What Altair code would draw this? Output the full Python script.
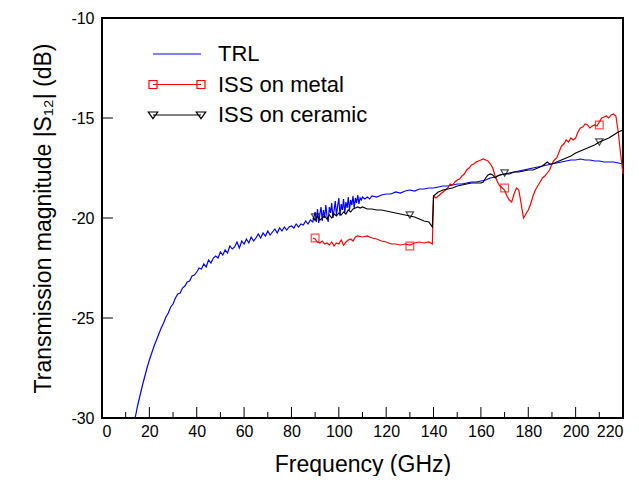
import altair as alt
import pandas as pd

FONT = "Liberation Sans"

# ---------------- data ----------------
trl_f = [14, 15, 16, 17, 18, 19, 20, 21, 22, 23, 24, 25, 26, 27, 28, 29, 30, 31, 32, 33,
         34, 35, 36, 37, 38, 39, 40, 41, 42, 43, 44, 45, 46, 47, 48, 49, 50, 51, 52, 53,
         54, 55, 56, 57, 58, 59, 60, 61, 62, 63, 64, 65, 66, 67, 68, 69, 70, 71, 72, 73,
         74, 75, 76, 77, 78, 79, 80, 81, 82, 83, 84, 85, 86, 87, 88, 89,
         90, 90.5, 91, 91.5, 92, 92.5, 93, 93.5, 94, 94.5, 95, 95.5, 96, 96.5, 97, 97.5,
         98, 98.5, 99, 99.5, 100, 100.5, 101, 101.5, 102, 102.5, 103, 103.5, 104, 104.5,
         105, 105.5, 106, 106.5, 107, 107.5, 108, 108.5, 109, 109.5, 110, 111, 112, 113,
         114, 116, 118, 120, 122, 124, 126, 128, 130, 132, 134, 136, 138, 140, 142, 144,
         146, 148, 150, 152, 154, 156, 158, 160, 162, 164, 166, 168, 170, 172, 174, 176,
         178, 180, 182, 184, 186, 188, 190, 192, 194, 196, 198, 200, 202, 204, 206, 208,
         210, 212, 214, 216, 218, 220]
trl_s = [-30.0, -29.4, -28.9, -28.4, -27.95, -27.5, -27.1, -26.75, -26.4, -26.1, -25.8, -25.5,
         -25.25, -24.95, -24.75, -24.45, -24.3, -24.0, -23.8, -23.75, -23.5, -23.4, -23.2,
         -23.15, -22.9, -22.85,
         -22.7, -22.5, -22.55, -22.3, -22.45, -22.1, -22.25, -22.0, -21.9, -22.0,
         -21.7, -21.85, -21.6, -21.75, -21.4, -21.55, -21.45, -21.2, -21.5, -21.15,
         -21.3, -21.05, -21.25, -20.95, -21.15, -21.0, -20.8, -21.0, -20.75, -20.9,
         -20.65, -20.85, -20.7, -20.55, -20.75, -20.5, -20.65, -20.45, -20.6, -20.45,
         -20.4, -20.5, -20.3, -20.45, -20.3, -20.35, -20.15, -20.3, -20.1, -20.2,
         -19.7, -20.2, -19.55, -20.25, -19.8, -19.45, -20.15, -19.6, -20.0, -19.35, -19.9,
         -20.2, -19.45, -19.75, -19.25, -20.0, -19.6, -19.15, -19.85, -19.4, -19.0, -19.9,
         -19.3, -19.6, -19.05, -19.75, -19.2, -19.5, -18.95, -19.6, -19.1, -19.35, -18.9,
         -19.5, -19.0, -19.25, -18.85, -19.3, -19.0, -19.1, -18.95, -19.05, -18.95, -19.05,
         -18.9, -18.95, -18.85, -18.8, -18.8, -18.7, -18.75, -18.65, -18.6, -18.65, -18.55,
         -18.55, -18.5, -18.5, -18.45, -18.4, -18.4, -18.35, -18.3, -18.3, -18.25, -18.2,
         -18.2, -18.15, -18.1, -18.0, -17.95, -17.85, -17.8, -17.8, -17.7, -17.65, -17.6,
         -17.55, -17.5, -17.45, -17.4, -17.35, -17.3, -17.25, -17.2, -17.15, -17.1, -17.1,
         -17.05, -17.1, -17.1, -17.15, -17.15, -17.2, -17.2, -17.2, -17.25, -17.3]

metal_f = [89, 90, 91, 92, 93, 94, 95, 96, 97, 98, 99, 100, 101, 102, 103, 104, 105, 106,
           107, 108, 110, 112, 114, 116, 118, 120, 122, 124, 126, 128, 130, 132, 134, 136,
           138, 139.5, 140, 141, 142, 143, 144, 145, 146, 147, 148, 149, 150, 151, 152, 153,
           154, 155, 156, 157, 158, 159, 160, 161, 162, 163, 164, 165, 166, 167, 168, 169,
           170, 171, 172, 173, 174, 175, 176, 177, 178, 179, 180, 181, 182, 183, 184, 185,
           186, 187, 188, 189, 190, 191, 192, 193, 194, 195, 196, 197, 198, 199, 200, 201,
           202, 203, 204, 205, 206, 207, 208, 209, 210, 211, 212, 213, 214, 215, 216, 217,
           218, 219, 220]
metal_s = [-21.0, -21.05, -21.2, -21.25, -21.15, -21.3, -21.25, -21.35, -21.2, -21.4, -21.25,
           -21.3, -21.1, -21.35, -21.2, -21.1, -21.05, -21.15, -20.95, -20.9, -20.95, -20.9,
           -21.0, -21.05, -21.15, -21.2, -21.3, -21.3, -21.35, -21.3, -21.35, -21.25, -21.2,
           -21.25, -21.2, -21.3, -18.9, -19.0, -18.9, -18.8, -18.7, -18.6, -18.5, -18.3,
           -18.35, -18.2, -18.1, -18.05, -17.9, -17.8, -17.6, -17.5, -17.35, -17.3, -17.2,
           -17.15, -17.1, -17.05, -17.1, -17.15, -17.3, -17.5, -17.9, -18.2, -18.4, -18.5,
           -18.6, -18.9, -19.1, -19.2, -18.8, -18.5, -18.6, -19.3, -20.0, -19.8, -19.6,
           -19.3, -18.9, -18.6, -18.4, -18.2, -18.0, -17.9, -17.75, -17.6, -17.3, -17.1,
           -17.0, -16.7, -16.4, -16.3, -16.1, -16.2, -16.0, -16.1, -16.0, -15.7, -15.5,
           -15.45, -15.3, -15.35, -15.5, -15.4, -15.35, -15.4, -15.2, -15.0, -14.95, -14.9,
           -15.0, -14.85, -14.8, -14.9, -15.7, -16.8, -17.8]

ceramic_f = [89, 90, 91, 92, 93, 94, 95, 96, 97, 98, 99, 100, 101, 102, 103, 104, 105, 106,
             107, 108, 109, 110, 112, 114, 116, 118, 120, 122, 124, 126, 128, 130, 132, 134,
             136, 138, 139.5, 140, 142, 144, 146, 148, 150, 152, 154, 156, 158, 160, 161,
             162, 163, 164, 165, 166, 167, 168, 170, 172, 174, 176, 178, 180, 182, 184, 186,
             187, 188, 189, 190, 192, 194, 196, 198, 200, 202, 204, 206, 208, 210, 212, 214,
             216, 218, 220]
ceramic_s = [-20.0, -20.1, -19.9, -20.1, -20.0, -19.9, -20.05, -19.85, -20.0, -19.8, -19.9,
             -19.75, -19.85, -19.7, -19.8, -19.6, -19.7, -19.55, -19.5, -19.45, -19.5, -19.45,
             -19.55, -19.55, -19.6, -19.6, -19.65, -19.7, -19.75, -19.8, -19.85, -19.9, -19.95,
             -20.05, -20.15, -20.2, -20.45, -18.9, -18.7, -18.6, -18.55, -18.5, -18.4, -18.35,
             -18.3, -18.25, -18.25, -18.25, -18.2, -18.0, -17.85, -17.8, -17.85, -18.0, -17.9,
             -17.85, -17.8, -17.75, -17.7, -17.7, -17.65, -17.6, -17.6, -17.5, -17.4, -17.3,
             -17.2, -17.3, -17.3, -17.2, -17.1, -17.0, -16.9, -16.75, -16.65, -16.55, -16.45,
             -16.35, -16.2, -16.1, -16.0, -15.85, -15.7, -15.6]

marker_f = [90, 130, 170, 210]
metal_marker_s = [-21.0, -21.4, -18.5, -15.35]
ceramic_marker_s = [-19.95, -19.85, -17.75, -16.2]

series_names = ["TRL", "ISS on metal", "ISS on ceramic"]
series_colors = ["#0000ff", "#ff0000", "#000000"]

x_major = [0, 20, 40, 60, 80, 100, 120, 140, 160, 180, 200, 220]
x_minor = [10, 30, 50, 70, 90, 110, 130, 150, 170, 190, 210]
y_major = [-30, -25, -20, -15, -10]

# ---------------- encodings ----------------
xscale = alt.Scale(domain=[0, 220], nice=False, zero=False)
yscale = alt.Scale(domain=[-30, -10], nice=False, zero=False)
xaxis = alt.Axis(values=x_major, ticks=False, domain=False, grid=False,
                 labelFontSize=16, labelPadding=5, labelColor="black",
                 labelFont=FONT, labelExpr="'' + datum.value",
                 title="Frequency (GHz)", titleFontSize=23, titleFont=FONT,
                 titleFontWeight="normal", titleColor="black",
                 titleBaseline="alphabetic", titleY=53)
yaxis = alt.Axis(values=y_major, ticks=False, domain=False, grid=False,
                 labelFontSize=16, labelPadding=8, labelColor="black",
                 labelFont=FONT, labelExpr="'' + datum.value",
                 title="Transmission magnitude |S\u2081\u2082| (dB)", titleFontSize=23,
                 titleFont=FONT, titleFontWeight="normal", titleColor="black",
                 titleBaseline="alphabetic", titleX=-52)

X = alt.X("freq:Q", scale=xscale, axis=xaxis)
Y = alt.Y("mag:Q", scale=yscale, axis=yaxis)

trl_df = pd.DataFrame({"freq": trl_f, "mag": trl_s})
metal_df = pd.DataFrame({"freq": metal_f, "mag": metal_s})
ceramic_df = pd.DataFrame({"freq": ceramic_f, "mag": ceramic_s})
metal_mk = pd.DataFrame({"freq": marker_f, "mag": metal_marker_s})
ceramic_mk = pd.DataFrame({"freq": marker_f, "mag": ceramic_marker_s})

trl_line = alt.Chart(trl_df).mark_line(color=series_colors[0], strokeWidth=1.2).encode(x=X, y=Y)
metal_line = alt.Chart(metal_df).mark_line(color=series_colors[1], strokeWidth=1.2).encode(x=X, y=Y)
ceramic_line = alt.Chart(ceramic_df).mark_line(color=series_colors[2], strokeWidth=1.2).encode(x=X, y=Y)

metal_pts = alt.Chart(metal_mk).mark_point(shape="square", filled=False, color=series_colors[1],
                                           size=60, strokeWidth=1.2).encode(x=X, y=Y)
ceramic_pts = alt.Chart(ceramic_mk).mark_point(shape="triangle-down", filled=False,
                                               color=series_colors[2], size=55,
                                               strokeWidth=1.2).encode(x=X, y=Y)

# inward ticks
xmaj_df = pd.DataFrame({"freq": x_major})
xmin_df = pd.DataFrame({"freq": x_minor})
ymaj_df = pd.DataFrame({"mag": y_major})
xmaj_ticks = alt.Chart(xmaj_df).mark_rule(color="black", strokeWidth=1).encode(
    x=X, y=alt.value(400), y2=alt.value(389))
xmin_ticks = alt.Chart(xmin_df).mark_rule(color="black", strokeWidth=1).encode(
    x=X, y=alt.value(400), y2=alt.value(394))
ymaj_ticks = alt.Chart(ymaj_df).mark_rule(color="black", strokeWidth=1).encode(
    y=Y, x=alt.value(0), x2=alt.value(11))

# legend with line+marker symbols
legend_paths = [
    "M-4.8,0H4.8",
    "M-4.8,0H4.8M-5.6,-0.8H-4V0.8H-5.6ZM4,-0.8H5.6V0.8H4Z",
    "M-4.8,0H4.8M-5.74,-0.6H-3.86L-4.8,0.74ZM3.86,-0.6H5.74L4.8,0.74Z",
]
leg_df = pd.DataFrame({"series": series_names})
leg = alt.Legend(title=None, orient="none", legendX=64, legendY=25)
legend_layer = alt.Chart(leg_df).mark_point(filled=False, opacity=0).encode(
    x=alt.value(0), y=alt.value(0),
    color=alt.Color("series:N", scale=alt.Scale(domain=series_names, range=series_colors),
                    legend=leg, sort=series_names),
    shape=alt.Shape("series:N", scale=alt.Scale(domain=series_names, range=legend_paths),
                    legend=leg, sort=series_names),
)

chart = alt.layer(
    xmaj_ticks, xmin_ticks, ymaj_ticks,
    trl_line, metal_line, ceramic_line, metal_pts, ceramic_pts, legend_layer
).properties(
    width=521, height=400,
    padding={"left": 94, "top": 10, "right": 6, "bottom": 58},
    autosize=alt.AutoSizeParams(type="none"),
    background="white",
).configure(
    font=FONT
).configure_view(
    stroke="black", strokeWidth=2
).configure_legend(
    labelFont=FONT, labelFontSize=22, labelColor="black", labelOffset=30,
    symbolSize=100, symbolStrokeWidth=1.2, symbolOpacity=1, rowPadding=8.5,
    padding=0, labelLimit=400
)

chart.save("out.html", embed_options={"renderer": "svg", "actions": False})
